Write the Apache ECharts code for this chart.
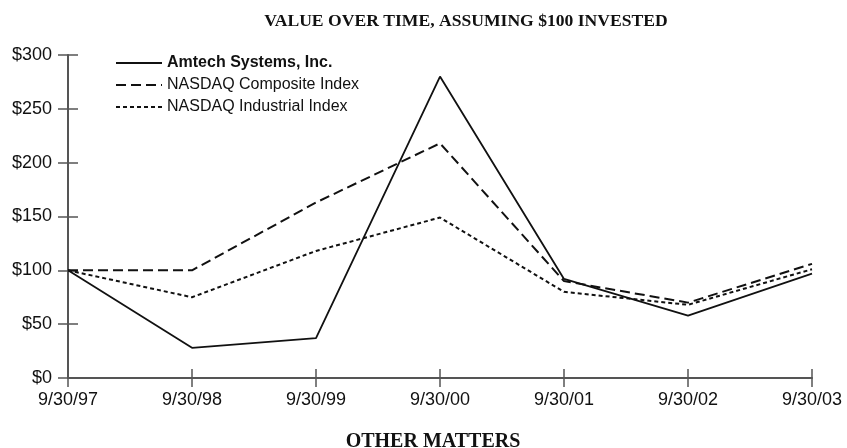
<!DOCTYPE html>
<html>
<head>
<meta charset="utf-8">
<script src="https://cdn.jsdelivr.net/npm/echarts@6/dist/echarts.min.js"></script>
<style>
  html, body { margin: 0; padding: 0; background: #fff; }
  #chart { width: 847px; height: 448px; }
</style>
</head>
<body>
<div id="chart"></div>
<script>
var dates = ['9/30/97', '9/30/98', '9/30/99', '9/30/00', '9/30/01', '9/30/02', '9/30/03'];
var amtech = [100, 28, 37, 280, 92, 58, 97];
var composite = [100, 100, 163, 218, 90, 70, 106];
var industrial = [100, 75, 118, 149, 80, 68, 101];
var yTicks = [0, 50, 100, 150, 200, 250, 300];

var chart = echarts.init(document.getElementById('chart'));
var axisColor = '#555';
var txtFont = '"Liberation Sans", Arial, sans-serif';
var serifFont = '"Liberation Serif", "Times New Roman", serif';

var option = {
  animation: false,
  title: [
    {
      text: 'VALUE OVER TIME, ASSUMING $100 INVESTED',
      left: 461, top: 7, textAlign: 'center',
      textStyle: { fontFamily: serifFont, fontWeight: 'bold', fontSize: 17.6, color: '#111' }
    },
    {
      text: 'OTHER MATTERS',
      left: 428, top: 427, textAlign: 'center',
      textStyle: { fontFamily: serifFont, fontWeight: 'bold', fontSize: 20, color: '#111' }
    }
  ],
  legend: {
    orient: 'vertical',
    left: 110, top: 50,
    itemWidth: 46, itemHeight: 14, itemGap: 6,
    itemStyle: { opacity: 0 },
    data: ['Amtech Systems, Inc.', 'NASDAQ Composite Index', 'NASDAQ Industrial Index'],
    formatter: function (name) {
      return name === 'Amtech Systems, Inc.' ? '{b|' + name + '}' : name;
    },
    textStyle: {
      fontFamily: txtFont, fontSize: 16, color: '#111',
      rich: { b: { fontFamily: txtFont, fontSize: 16, fontWeight: 'bold', color: '#111' } }
    }
  },
  grid: { left: 68, right: 35, top: 55, bottom: 70 },
  xAxis: [
    {
      type: 'category', data: dates, boundaryGap: false,
      axisLine: { lineStyle: { color: axisColor, width: 2 } },
      axisTick: { length: 9, lineStyle: { color: axisColor, width: 1.5 } },
      axisLabel: { fontFamily: txtFont, fontSize: 18, color: '#111', margin: 13 }
    },
    {
      type: 'category', data: dates, boundaryGap: false, position: 'bottom',
      axisLine: { show: false },
      axisTick: { inside: true, length: 9, lineStyle: { color: axisColor, width: 1.5 } },
      axisLabel: { show: false }
    }
  ],
  yAxis: [
    {
      type: 'value', min: 0, max: 300, interval: 50,
      splitLine: { show: false },
      axisLine: { show: true, lineStyle: { color: axisColor, width: 2 } },
      axisTick: { show: true, length: 10, lineStyle: { color: axisColor, width: 1.5 } },
      axisLabel: {
        fontFamily: txtFont, fontSize: 18, color: '#111', margin: 16,
        formatter: function (v) { return yTicks.indexOf(v) >= 0 ? '$' + v : ''; }
      }
    },
    {
      type: 'value', min: 0, max: 300, interval: 50, position: 'left',
      splitLine: { show: false },
      axisLine: { show: false },
      axisTick: { show: true, inside: true, length: 10, lineStyle: { color: axisColor, width: 1.5 } },
      axisLabel: { show: false }
    }
  ],
  series: [
    {
      name: 'Amtech Systems, Inc.', type: 'line', data: amtech, symbol: 'none',
      lineStyle: { color: '#111', width: 1.8, type: 'solid' }, itemStyle: { color: '#111' }
    },
    {
      name: 'NASDAQ Composite Index', type: 'line', data: composite, symbol: 'none',
      lineStyle: { color: '#111', width: 2, type: [10, 5] }, itemStyle: { color: '#111' }
    },
    {
      name: 'NASDAQ Industrial Index', type: 'line', data: industrial, symbol: 'none',
      lineStyle: { color: '#111', width: 2, type: [4, 3] }, itemStyle: { color: '#111' }
    }
  ]
};
chart.setOption(option);
</script>
</body>
</html>
